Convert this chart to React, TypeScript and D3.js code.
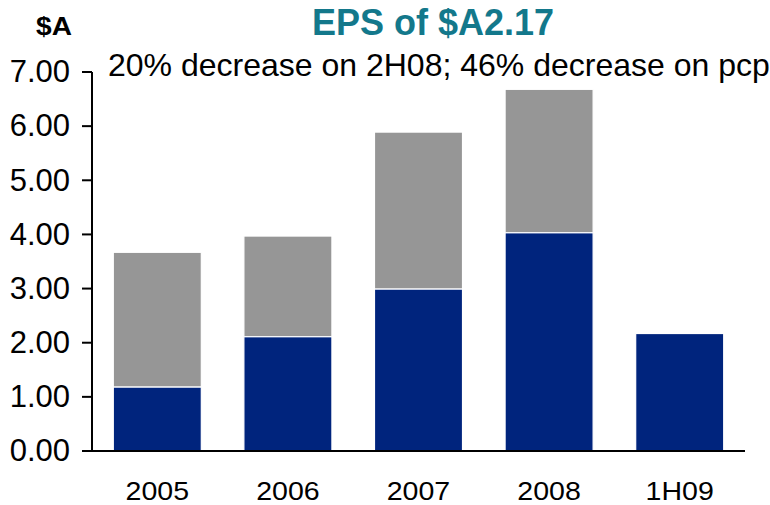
import React from "react";
import * as d3 from "d3";

const categories = ["2005", "2006", "2007", "2008", "1H09"];
const firstHalf = [1.18, 2.11, 2.99, 4.03, 2.17];
const totals = [3.67, 3.97, 5.89, 6.68, 2.17];
const yTicks = [0, 1, 2, 3, 4, 5, 6, 7];

const W = 770;
const H = 505;
const x0 = 92;
const x1 = 745;
const yBottom = 451;
const yTop = 72;

export default function App() {
  const x = d3.scaleBand<string>().domain(categories).range([x0, x1]).paddingInner(0.326).paddingOuter(0.163);
  const y = d3.scaleLinear().domain([0, 7]).range([yBottom, yTop]);
  const font = "'Liberation Sans', Arial, sans-serif";
  return (
    <svg width={W} height={H} style={{ position: "absolute", left: 0, top: 0 }} fontFamily={font}>
      <rect width={W} height={H} fill="#fff" />
      {categories.map((c, i) => {
        const bx = x(c)!;
        const bw = x.bandwidth();
        const h1 = firstHalf[i];
        const t = totals[i];
        return (
          <g key={c}>
            {t > h1 && (
              <rect x={bx} y={y(t)} width={bw} height={y(h1) - y(t)} fill="#969696" stroke="#fff" strokeWidth={1.2} />
            )}
            <rect x={bx} y={y(h1)} width={bw} height={y(0) - y(h1)} fill="#00247D" stroke="#fff" strokeWidth={1.2} />
          </g>
        );
      })}
      <line x1={x0} x2={x0} y1={yTop} y2={yBottom} stroke="#000" strokeWidth={2} />
      <line x1={x0} x2={x1} y1={yBottom} y2={yBottom} stroke="#000" strokeWidth={2} />
      {yTicks.map((v) => (
        <g key={v}>
          <line x1={82} x2={x0} y1={y(v)} y2={y(v)} stroke="#000" strokeWidth={2} />
          <text x={70} y={y(v)} dy="0.33em" textAnchor="end" fontSize={31} fill="#000">
            {v.toFixed(2)}
          </text>
        </g>
      ))}
      {categories.map((c) => (
        <text
          key={c}
          transform={`translate(${x(c)! + x.bandwidth() / 2},500) scale(1.12,1)`}
          textAnchor="middle"
          fontSize={25.5}
          fill="#000"
        >
          {c}
        </text>
      ))}
      <text transform="translate(54,35) scale(1.1,1)" textAnchor="middle" fontSize={25.5} fontWeight="bold" fill="#000">$A</text>
      <text x={433} y={35} textAnchor="middle" fontSize={36} fontWeight="bold" fill="#13788B">EPS of $A2.17</text>
      <text x={108} y={76} textAnchor="start" fontSize={32} fill="#000">20% decrease on 2H08; 46% decrease on pcp</text>
    </svg>
  );
}
